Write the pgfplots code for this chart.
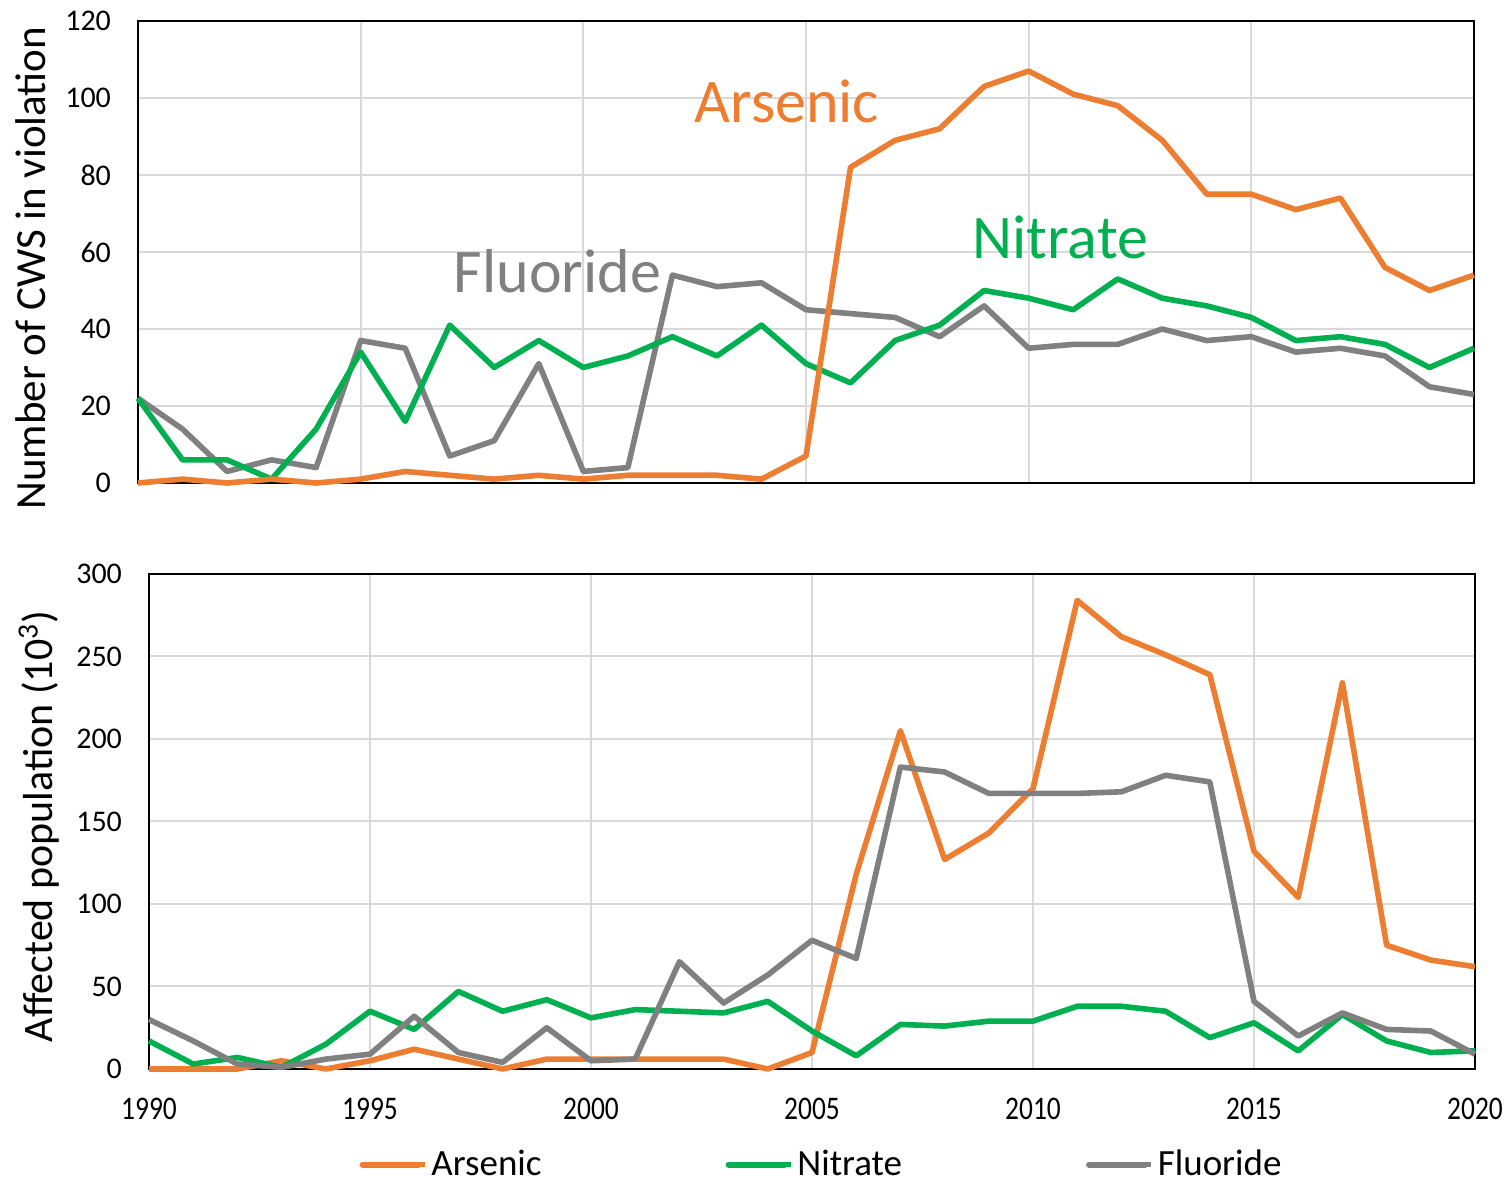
\documentclass[border=0pt]{standalone}
\usepackage{fontspec}
\setmainfont{Carlito}
\newfontfamily\xtickfont{Carlito}[FakeStretch=0.83]
\usepackage{pgfplots}
\pgfplotsset{compat=1.18}
\definecolor{cAs}{HTML}{ED7D31}
\definecolor{cNi}{HTML}{00B050}
\definecolor{cFl}{HTML}{808080}
\definecolor{cGrid}{HTML}{D9D9D9}
\pgfplotsset{
  common/.style={
    scale only axis,
    xmin=1990, xmax=2020,
    xtick={1990,1995,...,2020},
    grid=major,
    major grid style={cGrid, line width=1pt},
    axis line style={black, line width=1pt},
    major tick length=0pt,
    clip=false,
    /pgf/number format/1000 sep={},
    /pgf/number format/assume math mode=true,
    yticklabel style={font=\fontsize{15}{18}\selectfont, xshift=-10pt},
    xticklabel style={font=\xtickfont\fontsize{16.5}{19}\selectfont, yshift=-11pt},
    every axis plot/.append style={line width=2.8pt, line join=round, no markers},
  }
}
\begin{document}
\begin{tikzpicture}
\useasboundingbox (0,0) rectangle (755.5pt,591.5pt);
% Top axis
\begin{axis}[common,
  at={(69pt,350pt)}, anchor=south west,
  width=668pt, height=231pt,
  ymin=0, ymax=120, ytick={0,20,...,120},
  xticklabels={},
  ylabel={Number of CWS in violation},
  ylabel style={font=\fontsize{21.5}{25}\selectfont, at={(axis description cs:-0.080,0.465)}, anchor=center},
]
\addplot[cFl] coordinates {(1990,22)(1991,14)(1992,3)(1993,6)(1994,4)(1995,37)(1996,35)(1997,7)(1998,11)(1999,31)(2000,3)(2001,4)(2002,54)(2003,51)(2004,52)(2005,45)(2006,44)(2007,43)(2008,38)(2009,46)(2010,35)(2011,36)(2012,36)(2013,40)(2014,37)(2015,38)(2016,34)(2017,35)(2018,33)(2019,25)(2020,23)};
\addplot[cNi] coordinates {(1990,22)(1991,6)(1992,6)(1993,1)(1994,14)(1995,34)(1996,16)(1997,41)(1998,30)(1999,37)(2000,30)(2001,33)(2002,38)(2003,33)(2004,41)(2005,31)(2006,26)(2007,37)(2008,41)(2009,50)(2010,48)(2011,45)(2012,53)(2013,48)(2014,46)(2015,43)(2016,37)(2017,38)(2018,36)(2019,30)(2020,35)};
\addplot[cAs] coordinates {(1990,0)(1991,1)(1992,0)(1993,1)(1994,0)(1995,1)(1996,3)(1997,2)(1998,1)(1999,2)(2000,1)(2001,2)(2002,2)(2003,2)(2004,1)(2005,7)(2006,82)(2007,89)(2008,92)(2009,103)(2010,107)(2011,101)(2012,98)(2013,89)(2014,75)(2015,75)(2016,71)(2017,74)(2018,56)(2019,50)(2020,54)};
\node[cAs, font=\fontsize{31}{36}\selectfont, anchor=center] at (axis cs:2004.57,99.2) {Arsenic};
\node[cNi, font=\fontsize{31}{36}\selectfont, anchor=center] at (axis cs:2010.71,63.9) {Nitrate};
\node[cFl, font=\fontsize{31}{36}\selectfont, anchor=center] at (axis cs:1999.42,55.1) {Fluoride};
\end{axis}
% Bottom axis
\begin{axis}[common,
  at={(74.5pt,57pt)}, anchor=south west,
  width=663pt, height=247.5pt,
  ymin=0, ymax=300, ytick={0,50,...,300},
  ylabel={Affected population (10\textsuperscript{3})},
  ylabel style={font=\fontsize{21}{25}\selectfont, at={(axis description cs:-0.083,0.49)}, anchor=center},
  legend columns=3,
  legend style={draw=none, fill=none, inner sep=1pt, at={(axis description cs:0.508,-0.193)}, anchor=center,
    font=\fontsize{18.5}{22}\selectfont,
    /tikz/every even column/.append style={column sep=90pt}},
  legend image code/.code={\draw[#1, line width=3pt, line cap=round] (0pt,0pt) -- (28pt,0pt); \path (0pt,0pt) -- (31pt,0pt);},
]
\addplot[cAs] coordinates {(1990,0)(1991,0)(1992,0)(1993,5)(1994,0)(1995,5)(1996,12)(1997,6)(1998,0)(1999,6)(2000,6)(2001,6)(2002,6)(2003,6)(2004,0)(2005,10)(2006,118)(2007,205)(2008,127)(2009,143)(2010,170)(2011,284)(2012,262)(2013,251)(2014,239)(2015,132)(2016,104)(2017,234)(2018,75)(2019,66)(2020,62)};
\addlegendentry{Arsenic}
\addplot[cNi] coordinates {(1990,17)(1991,3)(1992,7)(1993,1)(1994,15)(1995,35)(1996,24)(1997,47)(1998,35)(1999,42)(2000,31)(2001,36)(2002,35)(2003,34)(2004,41)(2005,23)(2006,8)(2007,27)(2008,26)(2009,29)(2010,29)(2011,38)(2012,38)(2013,35)(2014,19)(2015,28)(2016,11)(2017,33)(2018,17)(2019,10)(2020,11)};
\addlegendentry{Nitrate}
\addplot[cFl] coordinates {(1990,30)(1991,17)(1992,3)(1993,1)(1994,6)(1995,9)(1996,32)(1997,10)(1998,4)(1999,25)(2000,5)(2001,6)(2002,65)(2003,40)(2004,57)(2005,78)(2006,67)(2007,183)(2008,180)(2009,167)(2010,167)(2011,167)(2012,168)(2013,178)(2014,174)(2015,41)(2016,20)(2017,34)(2018,24)(2019,23)(2020,9)};
\addlegendentry{Fluoride}
\end{axis}
\end{tikzpicture}
\end{document}
